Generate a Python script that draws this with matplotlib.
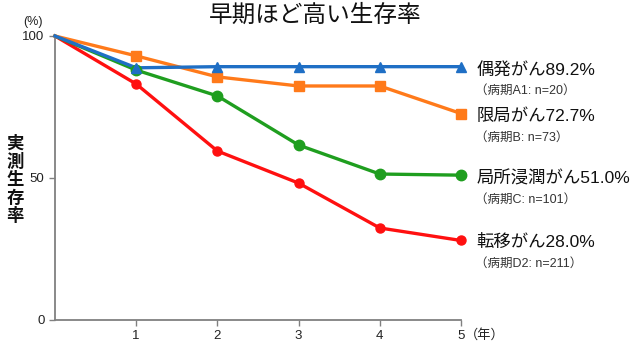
import matplotlib
matplotlib.use("Agg")
import matplotlib.pyplot as plt

plt.rcParams['font.family'] = ['Liberation Sans', 'Noto Sans CJK JP', 'DejaVu Sans']

years = [0, 1, 2, 3, 4, 5]
incidental = [100, 88.8, 89.2, 89.2, 89.2, 89.2]
localized = [100, 93.0, 85.6, 82.4, 82.4, 72.7]
invasive = [100, 88.0, 78.9, 61.6, 51.4, 51.0]
metastatic = [100, 83.1, 59.5, 48.2, 32.4, 28.0]

names = ["偶発がん89.2%", "限局がん72.7%", "局所浸潤がん51.0%", "転移がん28.0%"]
stages = ["（病期A1: n=20）", "（病期B: n=73）", "（病期C: n=101）", "（病期D2: n=211）"]
y_ticks = [0, 50, 100]
x_ticks = [1, 2, 3, 4, 5]

series = [
    (incidental, "#1f6fc5", "^", 7.5),
    (localized, "#ff7a1a", "s", 7.0),
    (invasive, "#1f9e1f", "o", 7.5),
    (metastatic, "#ff1010", "o", 6.5),
]

fig = plt.figure(figsize=(6.4, 3.45), dpi=100)
ax = fig.add_axes([55 / 640, 25 / 345, 406 / 640, 284 / 345])

# draw from bottom (red) to top (blue) so the blue line stays on top
for vals, col, mk, ms in reversed(series):
    ax.plot(years, vals, color=col, lw=2.4, clip_on=False, zorder=3)
    ax.plot(years[1:], vals[1:], ls="none", marker=mk, ms=ms, color=col,
            clip_on=False, zorder=4)

ax.set_xlim(0, 5)
ax.set_ylim(0, 100)
ax.set_xticks(x_ticks)
ax.set_yticks(y_ticks)
ax.set_xticklabels([str(t) for t in x_ticks])
ax.set_yticklabels([str(t) for t in y_ticks])
for s in ["top", "right"]:
    ax.spines[s].set_visible(False)
for s in ["left", "bottom"]:
    ax.spines[s].set_color("#808080")
    ax.spines[s].set_linewidth(1.3)
ax.tick_params(axis="both", direction="out", color="#808080", width=1.0,
               length=4, labelsize=9.5, labelcolor="#222222")
ax.tick_params(axis="x", pad=3)

# series labels at the right end of each line
main_offsets = [-2, -2, -2, -1]
for (vals, col, mk, ms), name, stage, dy in zip(series, names, stages, main_offsets):
    ax.annotate(name, xy=(5, vals[-1]), xytext=(11, dy), textcoords="offset points",
                fontsize=12.5, va="center", ha="left", color="#111111",
                annotation_clip=False)
    ax.annotate(stage, xy=(5, vals[-1]), xytext=(10, dy - 15.5), textcoords="offset points",
                fontsize=9, va="center", ha="left", color="#333333",
                annotation_clip=False)

fig.text(315 / 640, 1 - 16 / 345, "早期ほど高い生存率", fontsize=17,
         ha="center", va="center", color="#111111")
fig.text(33 / 640, 1 - 22 / 345, "(%)", fontsize=9, ha="center", va="center",
         color="#222222")

# vertical axis title, one character per line
ylab = "実測生存率"
for i, ch in enumerate(ylab):
    fig.text(15 / 640, 1 - (144 + 18 * i) / 345, ch, fontsize=12.5,
             fontweight="bold", ha="center", va="center", color="#111111",
             family=["Noto Sans CJK JP"])

ax.annotate("（年）", xy=(5, 0), xytext=(3, -11), textcoords="offset points",
            fontsize=9.5, ha="left", va="center", color="#222222",
            annotation_clip=False)

fig.savefig("out.png", dpi=100)
